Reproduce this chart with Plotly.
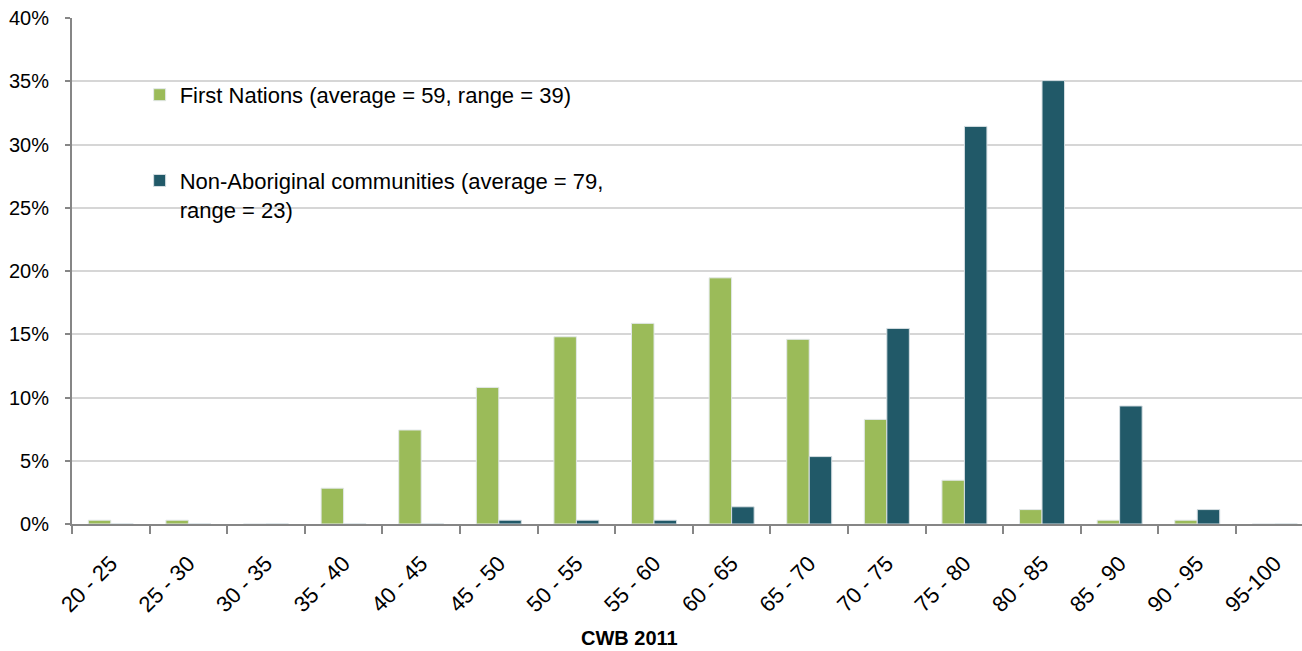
import plotly.graph_objects as go

categories = ["20 - 25", "25 - 30", "30 - 35", "35 - 40", "40 - 45", "45 - 50", "50 - 55",
              "55 - 60", "60 - 65", "65 - 70", "70 - 75", "75 - 80", "80 - 85", "85 - 90",
              "90 - 95", "95-100"]
first_nations = [0.3, 0.3, 0.0, 2.83, 7.43, 10.8, 14.8, 15.86, 19.46, 14.6, 8.27, 3.46, 1.14, 0.3, 0.3, 0.0]
non_aboriginal = [0.0, 0.0, 0.0, 0.0, 0.0, 0.3, 0.3, 0.3, 1.36, 5.33, 15.46, 31.43, 35.05, 9.33, 1.14, 0.0]
name_fn = "First Nations (average = 59, range = 39)"
name_na = "Non-Aboriginal communities (average = 79,<br>range = 23)"
y_ticks = [0, 5, 10, 15, 20, 25, 30, 35, 40]
y_ticklabels = [f"{v}%" for v in y_ticks]

FONT = "Liberation Sans, Arial, sans-serif"
GREEN = "#9BBB59"
TEAL = "#215968"

fig = go.Figure()
fig.add_trace(go.Bar(x=categories, y=first_nations, name=name_fn,
                     marker=dict(color=GREEN, line=dict(color="#E3E8EA", width=1)),
                     legend="legend"))
fig.add_trace(go.Bar(x=categories, y=non_aboriginal, name=name_na,
                     marker=dict(color=TEAL, line=dict(color="#D5DEE2", width=1)),
                     legend="legend2"))

fig.update_layout(
    width=1302, height=651,
    margin=dict(l=72, r=0, t=18, b=127),
    plot_bgcolor="white", paper_bgcolor="white",
    barmode="group", bargap=0.42, bargroupgap=0.0,
    font=dict(family=FONT, size=20, color="black"),
    showlegend=True,
    legend=dict(x=0.055, y=0.848, xanchor="left", yanchor="middle",
                font=dict(family=FONT, size=22, color="black"),
                bgcolor="rgba(0,0,0,0)", borderwidth=0, valign="top"),
    legend2=dict(x=0.055, y=0.72, xanchor="left", yanchor="top",
                 font=dict(family=FONT, size=22, color="black"),
                 bgcolor="rgba(0,0,0,0)", borderwidth=0, valign="top"),
    xaxis=dict(
        type="category", range=[-0.5, 15.35], automargin=False,
        showline=True, linecolor="#868686", linewidth=2,
        ticks="outside", tickson="boundaries", ticklen=8, tickwidth=2, tickcolor="#868686",
        tickangle=-45, tickfont=dict(family=FONT, size=22, color="black"),
        ticklabelstandoff=16,
        showgrid=False, fixedrange=True,
    ),
    yaxis=dict(
        range=[0, 40], tickvals=y_ticks, ticktext=y_ticklabels, automargin=False,
        showline=True, linecolor="#868686", linewidth=2,
        ticks="outside", ticklen=5, tickwidth=2, tickcolor="#868686",
        ticklabelstandoff=12,
        showgrid=True, gridcolor="#D6D6D6", gridwidth=2,
        zeroline=False,
        tickfont=dict(family=FONT, size=20, color="black"),
    ),
    annotations=[dict(text="<b>CWB 2011</b>",
                      x=(629.5 - 72) / (1302 - 72), y=-(650 - 524) / (524 - 18),
                      xref="paper", yref="paper", xanchor="center", yanchor="bottom",
                      borderpad=0, showarrow=False,
                      font=dict(family=FONT, size=20, color="black"))],
)

fig.write_html("out.html", config={"displayModeBar": False},
               post_script="document.body.style.margin='0px';")
